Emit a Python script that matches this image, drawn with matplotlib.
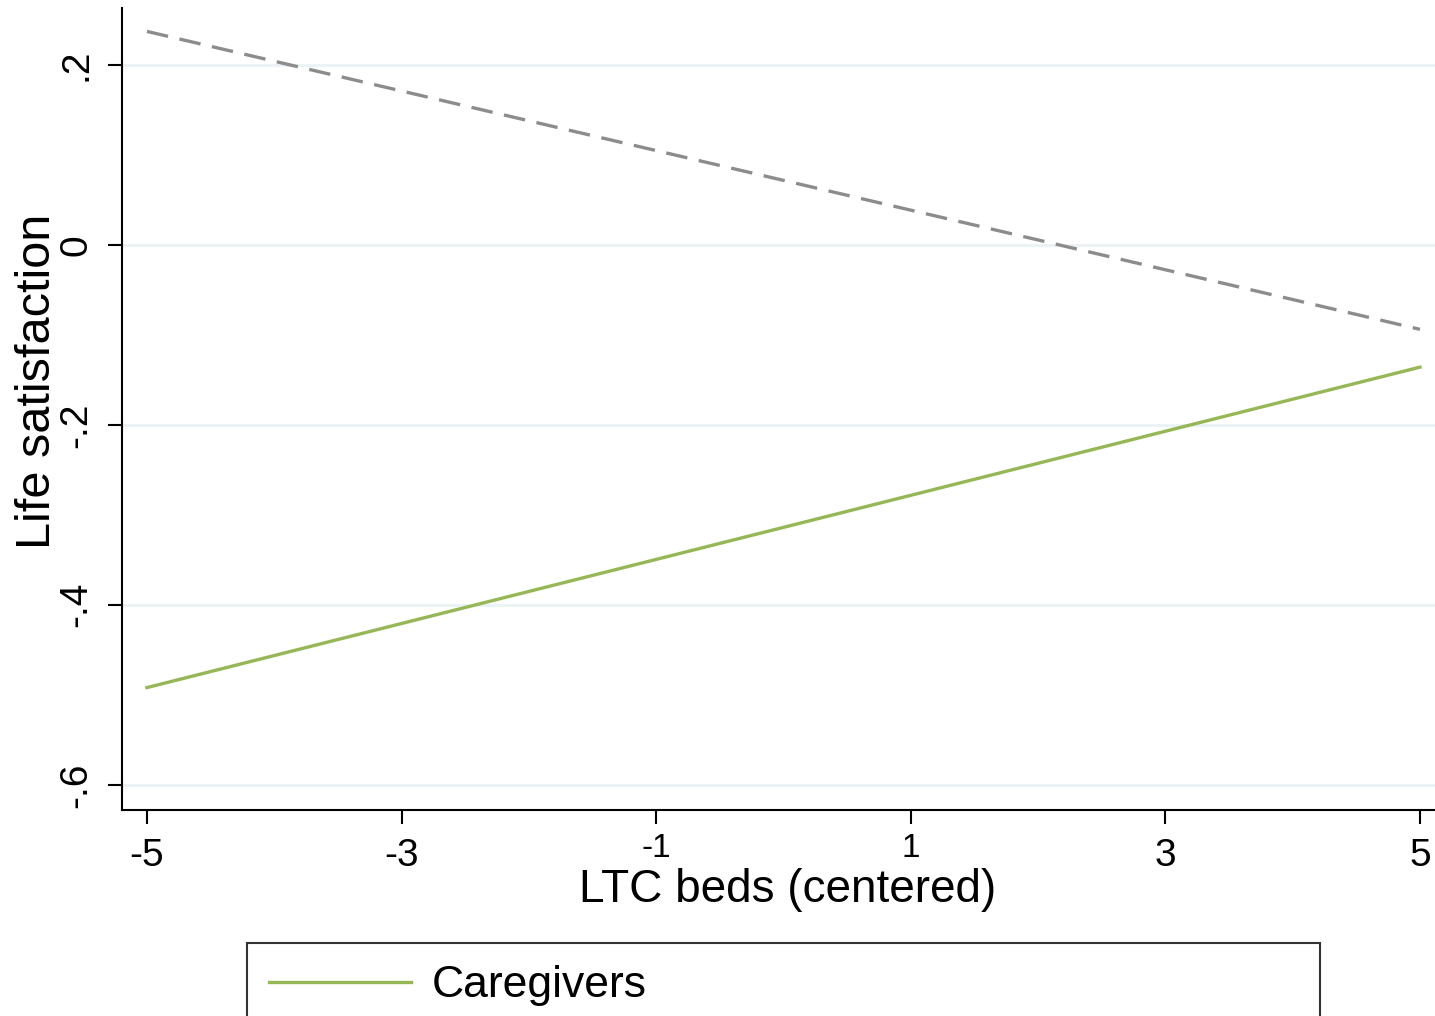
import matplotlib
matplotlib.use("Agg")
import matplotlib.pyplot as plt
from matplotlib import font_manager

# values
ltc_beds = [-5, 5]
caregivers = [-0.492, -0.136]
non_caregivers = [0.237, -0.094]
x_ticks = [-5, -3, -1, 1, 3, 5]
y_ticks = [-0.6, -0.4, -0.2, 0, 0.2]
y_tick_labels = ["-.6", "-.4", "-.2", "0", ".2"]

names = {f.name for f in font_manager.fontManager.ttflist}
fam = "Liberation Sans Narrow" if "Liberation Sans Narrow" in names else "Liberation Sans"
plt.rcParams["font.family"] = [fam, "DejaVu Sans"]
plt.rcParams["axes.unicode_minus"] = False

fig = plt.figure(figsize=(14.35, 10.16), dpi=100)
ax = fig.add_axes([122 / 1435, 1 - 810 / 1016, 1 - 122 / 1435, 802 / 1016])

ax.plot(ltc_beds, caregivers, color="#95b756", lw=2.4, label="Caregivers")
ax.plot(ltc_beds, non_caregivers, color="#8c8c8c", lw=2.4, dashes=(6.5, 3.5),
        label="Non-caregivers")

ax.set_xlim(-5.196, 5.118)
ax.set_ylim(-0.628, 0.263)
ax.set_xticks(x_ticks)
ax.set_yticks(y_ticks)
ax.set_yticklabels(y_tick_labels, rotation=90, va="center")
ax.grid(axis="y", color="#eaf2f3", lw=2)
ax.set_axisbelow(True)
for s in ["top", "right"]:
    ax.spines[s].set_visible(False)
for s in ["left", "bottom"]:
    ax.spines[s].set_linewidth(1.5)
ax.tick_params(length=10, width=1.5, labelsize=28, pad=10)

# the -1 and 1 labels sit a bit higher and smaller in the original
for lab in ax.get_xticklabels():
    if lab.get_text() in ("-1", "1"):
        lab.set_fontsize(24)
        lab.set_y(0.006)

ax.set_xlabel("LTC beds (centered)", fontsize=33, labelpad=-4)
ax.xaxis.label.set_x(0.507)
ax.set_ylabel("Life satisfaction", fontsize=35)
ax.yaxis.set_label_coords(-0.047, 0.535)

# second entry falls below the bottom edge, as in the original
leg = fig.legend(loc="upper left", bbox_to_anchor=(247 / 1435, 1 - 943 / 1016, 1073 / 1435, 0.0),
                 mode="expand", ncol=1, fontsize=32, frameon=True, fancybox=False,
                 handlelength=3.2, handletextpad=0.45, borderpad=0.5, borderaxespad=0,
                 labelspacing=1.5)
leg.get_frame().set_edgecolor("black")
leg.get_frame().set_linewidth(1.5)

fig.savefig("out.png", dpi=100)
